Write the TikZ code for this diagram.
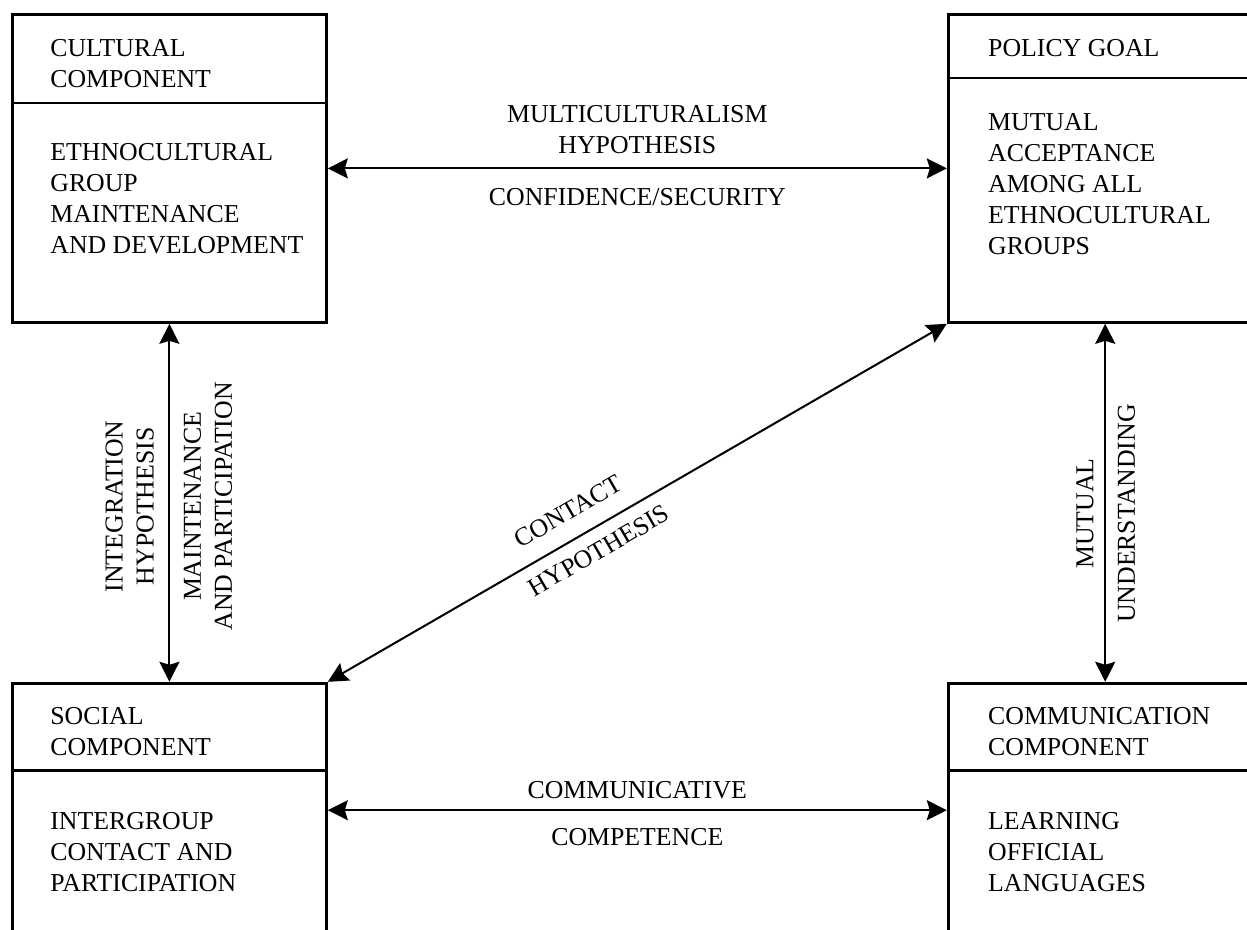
\documentclass[tikz,border=0pt]{standalone}
\usepackage{fontspec}
\setmainfont{Liberation Serif}
\usetikzlibrary{positioning,arrows.meta}

\begin{document}
\begin{tikzpicture}[x=0.5pt, y=-0.5pt, font=\fontsize{12.9}{15.5}\selectfont,
    compbox/.style={draw, line width=1.4pt, inner sep=0pt, minimum width=157pt},
    tallbox/.style={compbox, minimum height=154pt},
    shortbox/.style={compbox, minimum height=127pt},
    boxtext/.style={align=left, inner sep=0pt, anchor=base west},
    lbl/.style={align=center, inner sep=0pt},
    link/.style={line width=1pt, <->, >={Stealth[length=10pt,width=10pt,inset=1.5pt]}}]
  \useasboundingbox (0,0) rectangle (1247,930) ;
  \clip (0,0) rectangle (1247,930) ;

  \node [tallbox, anchor=north west] (cultural) at (11,13) {} ;
  \node [tallbox, right=309.5pt of cultural] (policy) {} ;
  \node [shortbox, below=179pt of cultural] (social) {} ;
  \node [shortbox, right=309.5pt of social] (communication) {} ;

  % header rules
  \draw [line width=1.4pt] ([yshift=-45pt]cultural.north west) -- ([yshift=-45pt]cultural.north east) ;
  \draw [line width=1.4pt] ([yshift=-32.5pt]policy.north west) -- ([yshift=-32.5pt]policy.north east) ;
  \draw [line width=1.4pt] ([yshift=-44.5pt]social.north west) -- ([yshift=-44.5pt]social.north east) ;
  \draw [line width=1.4pt] ([yshift=-44.5pt]communication.north west) -- ([yshift=-44.5pt]communication.north east) ;

  % base of a multi-line node is its last line
  \node [boxtext] (culturalhead) at ([shift={(19.5pt,-37.5pt)}]cultural.north west) {CULTURAL\\COMPONENT} ;
    \node [boxtext] (culturalbody) at ([shift={(19.5pt,-120.5pt)}]cultural.north west) {ETHNOCULTURAL\\GROUP\\MAINTENANCE\\AND DEVELOPMENT} ;
  \node [boxtext] (policyhead) at ([shift={(20.5pt,-22pt)}]policy.north west) {POLICY GOAL} ;
    \node [boxtext] (policybody) at ([shift={(20.5pt,-121pt)}]policy.north west) {MUTUAL\\ACCEPTANCE\\AMONG ALL\\ETHNOCULTURAL\\GROUPS} ;
  \node [boxtext] (socialhead) at ([shift={(19.5pt,-37pt)}]social.north west) {SOCIAL\\COMPONENT} ;
    \node [boxtext] (socialbody) at ([shift={(19.5pt,-105pt)}]social.north west) {INTERGROUP\\CONTACT AND\\PARTICIPATION} ;
  \node [boxtext] (communicationhead) at ([shift={(20.5pt,-37pt)}]communication.north west) {COMMUNICATION\\COMPONENT} ;
    \node [boxtext] (communicationbody) at ([shift={(20.5pt,-105pt)}]communication.north west) {LEARNING\\OFFICIAL\\LANGUAGES} ;

  \path [link] (cultural) edge
    node [lbl, above=6.75pt] {MULTICULTURALISM\\HYPOTHESIS}
    node [lbl, below=9.75pt] {CONFIDENCE/SECURITY} (policy) ;
  \path [link] (social) edge
    node [lbl, above=5.25pt] {COMMUNICATIVE}
    node [lbl, below=8.75pt] {COMPETENCE} (communication) ;
  \path [link] (social) edge
    node [lbl, sloped, pos=0.49, above=7.25pt] {INTEGRATION\\HYPOTHESIS}
    node [lbl, sloped, pos=0.49, below=6.75pt] {MAINTENANCE\\AND PARTICIPATION} (cultural) ;
  \path [link] (communication) edge
    node [lbl, sloped, pos=0.47, above=5.25pt] {MUTUAL}
    node [lbl, sloped, pos=0.47, below=5.75pt] {UNDERSTANDING} (policy) ;
  \path [link] (social.north east) edge
    node [lbl, sloped, pos=0.41, above=8.8pt] {CONTACT}
    node [lbl, sloped, pos=0.42, below=6.2pt] {HYPOTHESIS} (policy.south west) ;
\end{tikzpicture}
\end{document}
